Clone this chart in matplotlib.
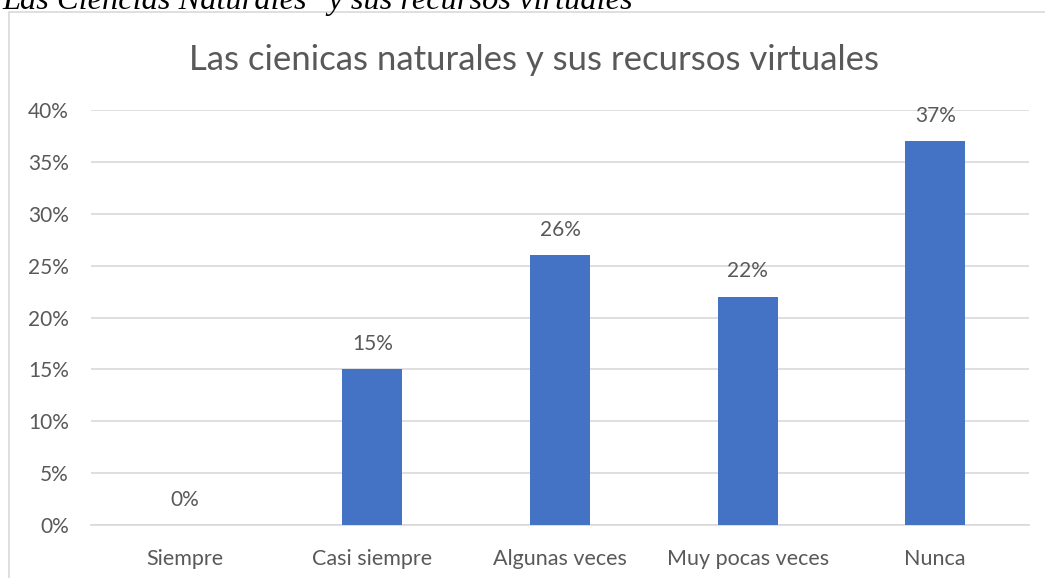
import matplotlib.pyplot as plt
from matplotlib.patches import Rectangle
import numpy as np

categories = ["Siempre", "Casi siempre", "Algunas veces", "Muy pocas veces", "Nunca"]
values = [0, 15, 26, 22, 37]
yticks = [0, 5, 10, 15, 20, 25, 30, 35, 40]

plt.rcParams['font.family'] = ['Lato', 'DejaVu Sans']
TXT = '#595959'
GRID = '#d9d9d9'
BAR = '#4472C4'

W, H = 1045, 578
fig = plt.figure(figsize=(W / 100, H / 100), dpi=100)

# chart frame (cropped on right/bottom)
fig.patches.append(Rectangle((9 / W, -0.05), 1.1, 1 - 12 / H + 0.05, transform=fig.transFigure,
                             fill=False, edgecolor=GRID, linewidth=1.2))

# caption cut off at the top
fig.text(2 / W, 1 - 9 / H, 'Las Ciencias Naturales" y sus recursos virtuales',
         family='Liberation Serif', style='italic', fontsize=23.3, color='black',
         ha='left', va='baseline')

ax = fig.add_axes([91 / W, 1 - 525 / H, (1029 - 91) / W, (525 - 110) / H])
x = np.arange(len(categories))
ax.bar(x, values, width=0.32, color=BAR, zorder=3)
ax.set_xlim(-0.5, len(categories) - 0.5)
ax.set_ylim(0, 40)
ax.set_yticks(yticks)
ax.set_yticklabels([f"{v}%" for v in yticks], fontsize=15, color=TXT)
ax.set_xticks(x)
ax.set_xticklabels(categories, fontsize=15.5, color=TXT)
ax.tick_params(axis='y', length=0, pad=16)
ax.tick_params(axis='x', length=0, pad=17)
ax.yaxis.grid(True, color=GRID, linewidth=1.2, zorder=0)
for s in ['top', 'right', 'left']:
    ax.spines[s].set_visible(False)
ax.spines['bottom'].set_color(GRID)
ax.spines['bottom'].set_linewidth(1.2)

for xi, v in zip(x, values):
    ax.annotate(f"{v}%", (xi, v), xytext=(0, 11), textcoords='offset points',
                ha='center', va='bottom', fontsize=15, color=TXT)

fig.text(534 / W, 1 - 60 / H, 'Las cienicas naturales y sus recursos virtuales',
         ha='center', va='center', fontsize=25, color=TXT)

fig.savefig('out.png', dpi=100)
